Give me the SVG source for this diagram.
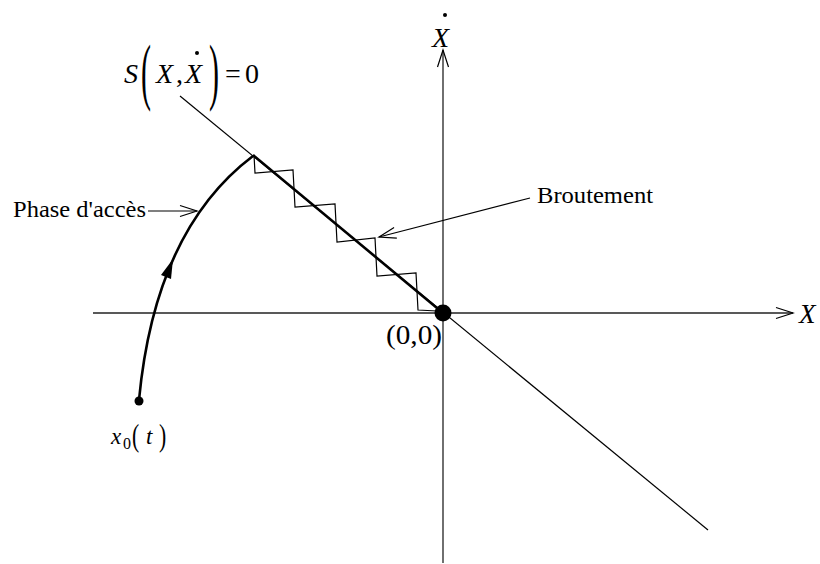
<svg xmlns="http://www.w3.org/2000/svg" width="820" height="564" viewBox="0 0 820 564">
<style>
.ax{stroke:#222;stroke-width:1.3;fill:none}
.thin{stroke:#000;stroke-width:1.2;fill:none}
.thick{stroke:#000;stroke-width:2.6;fill:none}
.t{font-family:"Liberation Serif","Times New Roman",serif;fill:#000}
.m{font-family:"Liberation Serif","Times New Roman",serif;font-style:italic;fill:#000}
</style>
<defs>
<marker id="open" markerWidth="20" markerHeight="14" refX="18" refY="7" orient="auto" markerUnits="userSpaceOnUse">
<path d="M1,1.5 L18,7 L1,12.5" fill="none" stroke="#000" stroke-width="1.2"/>
</marker>
</defs>
<g id="connectors">
<line id="x-axis" class="ax" x1="93" y1="313" x2="793" y2="313" marker-end="url(#open)"/>
<line id="y-axis" class="ax" x1="443" y1="563" x2="443" y2="50" marker-end="url(#open)"/>
<line id="surface" class="thin" x1="180" y1="96" x2="708" y2="530"/>
<line id="sliding" class="thick" x1="253" y1="155" x2="443" y2="313"/>
<polyline id="chattering" class="thin" points="254,155 255,173 293,170 295,207 335,204 337,242 375,238 377,276 416,273 418,310 437,311"/>
<path id="reach" class="thick" d="M139,400 Q155,230 253,156"/>
<path id="reach-arrow" d="M173,259 L161,275 L171,279 Z" fill="#000"/>
<line id="phase-arrow" class="thin" x1="148" y1="211" x2="197" y2="211" marker-end="url(#open)"/>
<line id="brout-arrow" class="thin" x1="530" y1="198" x2="379" y2="237" marker-end="url(#open)"/>
</g>
<g id="origin">
<circle cx="443" cy="313" r="8.5" fill="#000"/>
<text class="t" x="386" y="344" font-size="27" textLength="56" lengthAdjust="spacingAndGlyphs">(0,0)</text>
</g>
<g id="start">
<circle cx="139" cy="401" r="4.5" fill="#000"/>
<text class="m" x="111" y="444" font-size="23">x</text>
<text class="t" x="123" y="449" font-size="16">0</text>
<text class="t" x="132" y="446" font-size="31" transform="translate(132 446) scale(0.7 1) translate(-132 -446)">(</text>
<text class="m" x="146" y="444" font-size="23">t</text>
<text class="t" x="159" y="446" font-size="31" transform="translate(159 446) scale(0.7 1) translate(-159 -446)">)</text>
</g>
<g id="label-surface">
<text class="m" x="124" y="83" font-size="28">S</text>
<text class="t" x="141" y="96.5" font-size="75" transform="translate(141 96.5) scale(0.4 1) translate(-141 -96.5)">(</text>
<text class="m" x="156" y="83" font-size="28">X</text>
<text class="t" x="176" y="83" font-size="28">,</text>
<text class="m" x="185" y="83" font-size="28">X</text>
<circle cx="197" cy="53" r="2" fill="#000"/>
<text class="t" x="209" y="96.5" font-size="75" transform="translate(209 96.5) scale(0.4 1) translate(-209 -96.5)">)</text>
<text class="t" x="225" y="83" font-size="28">=</text>
<text class="t" x="245" y="83" font-size="28">0</text>
</g>
<g id="label-xdot">
<text class="m" x="432" y="47" font-size="28">X</text>
<circle cx="445" cy="15" r="2" fill="#000"/>
</g>
<g id="label-x">
<text class="m" x="799" y="323" font-size="27">X</text>
</g>
<g id="label-phase">
<text class="t" x="13" y="217" font-size="24" textLength="133" lengthAdjust="spacingAndGlyphs">Phase d'accès</text>
</g>
<g id="label-brout">
<text class="t" x="537" y="203" font-size="24" textLength="116" lengthAdjust="spacingAndGlyphs">Broutement</text>
</g>
</svg>
